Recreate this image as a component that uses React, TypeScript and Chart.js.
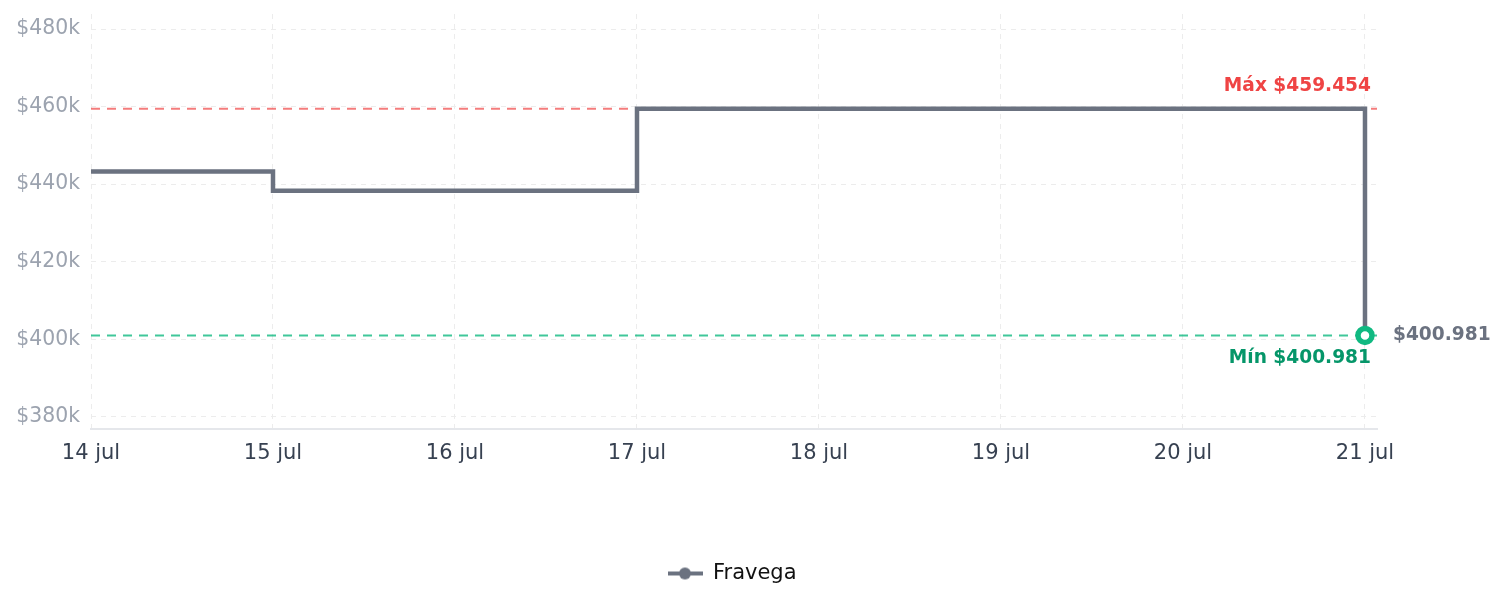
import React, { useEffect, useRef } from "react";
import { Chart, registerables } from "chart.js";

Chart.register(...registerables);

const dayLabels = ["14 jul", "15 jul", "16 jul", "17 jul", "18 jul", "19 jul", "20 jul", "21 jul"];
const fravegaPrices = [443300, 438300, 438300, 459454, 459454, 459454, 459454, 400981];
const yTickValues = [380000, 400000, 420000, 440000, 460000, 480000];
const maxPrice = 459454;
const minPrice = 400981;
const seriesName = "Fravega";

const FONT = "'DejaVu Sans', sans-serif";
const LINE_COLOR = "#6b7280";

function fmtPrice(v: number) {
  return "$" + Math.round(v).toString().replace(/\B(?=(\d{3})+(?!\d))/g, ".");
}

function makeLegendIcon() {
  const c = document.createElement("canvas");
  c.width = 35;
  c.height = 14;
  const ctx = c.getContext("2d")!;
  ctx.strokeStyle = LINE_COLOR;
  ctx.lineWidth = 4;
  ctx.beginPath();
  ctx.moveTo(0, 7);
  ctx.lineTo(35, 7);
  ctx.stroke();
  ctx.fillStyle = LINE_COLOR;
  ctx.beginPath();
  ctx.arc(17, 7, 6, 0, Math.PI * 2);
  ctx.fill();
  return c;
}

const refLinesPlugin = {
  id: "refLines",
  beforeDatasetsDraw(chart: any) {
    const { ctx, chartArea, scales } = chart;
    const y = scales.y;
    const drawLine = (val: number, color: string) => {
      const py = y.getPixelForValue(val);
      ctx.save();
      ctx.strokeStyle = color;
      ctx.lineWidth = 2;
      ctx.setLineDash([9, 7]);
      ctx.beginPath();
      ctx.moveTo(chartArea.left, py);
      ctx.lineTo(chartArea.right, py);
      ctx.stroke();
      ctx.restore();
    };
    drawLine(maxPrice, "rgba(239,68,68,0.7)");
    drawLine(minPrice, "rgba(16,185,129,0.8)");
  },
  afterDatasetsDraw(chart: any) {
    const { ctx, chartArea, scales } = chart;
    const y = scales.y;
    const x = scales.x;
    const yMax = y.getPixelForValue(maxPrice);
    const yMin = y.getPixelForValue(minPrice);
    ctx.save();
    ctx.font = `bold 18.6px ${FONT}`;
    ctx.textBaseline = "middle";
    ctx.textAlign = "right";
    ctx.fillStyle = "#ef4444";
    ctx.fillText("Máx " + fmtPrice(maxPrice), chartArea.right - 6, yMax - 23);
    ctx.fillStyle = "#059669";
    ctx.fillText("Mín " + fmtPrice(minPrice), chartArea.right - 6, yMin + 23);
    const last = fravegaPrices.length - 1;
    const lx = x.getPixelForValue(last);
    const ly = y.getPixelForValue(fravegaPrices[last]);
    ctx.textAlign = "left";
    ctx.fillStyle = LINE_COLOR;
    ctx.fillText(fmtPrice(fravegaPrices[last]), lx + 28, ly);
    ctx.restore();
  },
};

export default function App() {
  const ref = useRef<HTMLCanvasElement>(null);
  useEffect(() => {
    if (!ref.current) return;
    const last = fravegaPrices.length - 1;
    const icon = makeLegendIcon();
    const chart = new Chart(ref.current, {
      type: "line",
      data: {
        datasets: [
          {
            label: seriesName,
            data: fravegaPrices.map((v, i) => ({ x: i, y: v })),
            borderColor: LINE_COLOR,
            backgroundColor: LINE_COLOR,
            borderWidth: 4.5,
            stepped: true,
            fill: false,
            pointRadius: (c: any) => (c.dataIndex === last ? 7 : 0),
            pointHoverRadius: (c: any) => (c.dataIndex === last ? 7 : 0),
            pointBackgroundColor: "#ffffff",
            pointBorderColor: "#10b981",
            pointBorderWidth: 5.5,
          } as any,
        ],
      },
      options: {
        animation: false,
        responsive: true,
        maintainAspectRatio: false,
        layout: { autoPadding: false, padding: { left: 0, right: 40, top: 6, bottom: 5 } },
        plugins: {
          tooltip: { enabled: false },
          legend: {
            position: "bottom",
            labels: {
              font: { family: FONT, size: 21 },
              color: "#111111",
              usePointStyle: true,
              pointStyleWidth: 34,
              padding: 10,
              generateLabels: () => [
                {
                  text: seriesName,
                  pointStyle: icon as any,
                  fillStyle: LINE_COLOR,
                  strokeStyle: LINE_COLOR,
                  lineWidth: 0,
                  hidden: false,
                  datasetIndex: 0,
                  fontColor: "#111111",
                } as any,
              ],
            },
          },
        },
        scales: {
          x: {
            type: "linear",
            min: 0,
            max: 7.066,
            afterBuildTicks: (s: any) => {
              s.ticks = dayLabels.map((_, i) => ({ value: i }));
            },
            afterFit: (s: any) => {
              s.height += 75;
            },
            ticks: {
              autoSkip: false,
              maxRotation: 0,
              padding: 12,
              color: "#374151",
              font: { family: FONT, size: 21 },
              callback: (v: any) => dayLabels[v as number] ?? "",
            },
            grid: {
              color: "#ececec",
              lineWidth: 1,
              drawTicks: false,
            },
            border: { display: true, color: "#e5e7eb", width: 2 },
          },
          y: {
            type: "linear",
            min: 376900,
            max: 483900,
            afterBuildTicks: (s: any) => {
              s.ticks = yTickValues.map((v) => ({ value: v }));
            },
            afterFit: (s: any) => {
              s.width = 83;
              s.paddingTop = 0;
              s.paddingBottom = 0;
            },
            ticks: {
              padding: 11,
              color: "#9ca3af",
              font: { family: FONT, size: 20.4 },
              callback: (v: any) => "$" + Math.round(Number(v) / 1000) + "k",
            },
            grid: {
              color: "#ececec",
              lineWidth: 1,
              drawTicks: false,
            },
            border: { display: false },
          },
          yRight: {
            type: "linear",
            position: "right",
            display: true,
            grid: { display: false, drawTicks: false },
            border: { display: false },
            ticks: { display: false },
            afterFit: (s: any) => {
              s.width = 80;
              s.paddingTop = 0;
              s.paddingBottom = 0;
            },
          },
        },
      } as any,
      plugins: [
        refLinesPlugin,
        {
          id: "dashGrid",
          beforeInit(chart: any) {
            chart.options.scales.x.border.dash = [5, 5];
            chart.options.scales.y.border.dash = [5, 5];
          },
        },
      ],
    });
    return () => chart.destroy();
  }, []);
  return (
    <div style={{ position: "relative", width: "100%", height: "591px" }}>
      <canvas ref={ref} />
    </div>
  );
}
